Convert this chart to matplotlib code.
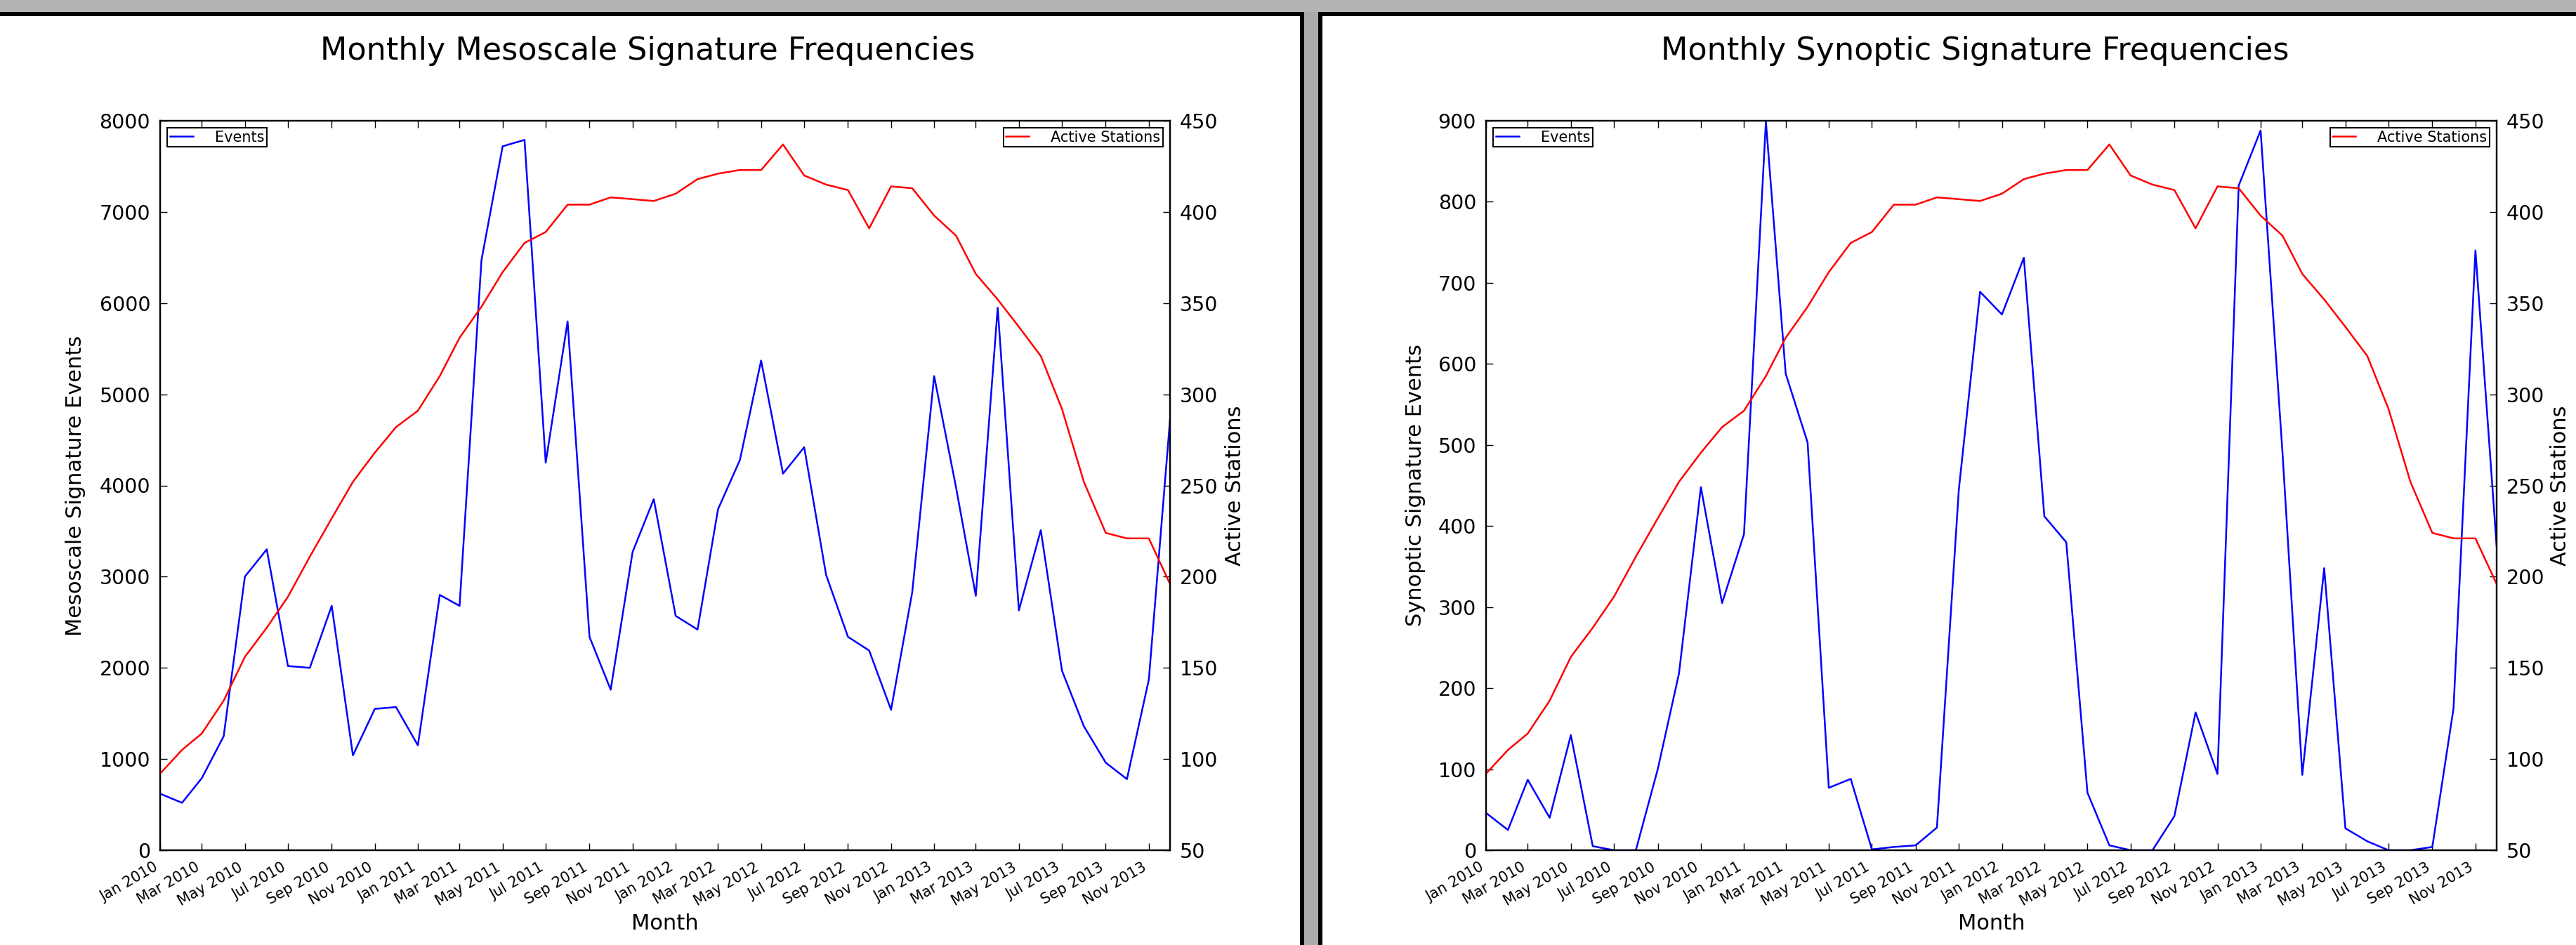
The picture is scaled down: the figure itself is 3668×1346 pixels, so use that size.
import matplotlib
matplotlib.use('Agg')
import matplotlib.pyplot as plt
import matplotlib.dates as mdates
from matplotlib.patches import Rectangle
import pandas as pd

W, H = 3668, 1346
DPI = 100

months = pd.date_range('2010-01-01', '2013-12-01', freq='MS')

meso_events = [620, 520, 790, 1250, 3000, 3300, 2020, 2000, 2680, 1040,
               1550, 1570, 1150, 2800, 2680, 6470, 7720, 7790, 4250, 5800,
               2340, 1760, 3270, 3850, 2570, 2420, 3740, 4280, 5370, 4130,
               4420, 3020, 2340, 2190, 1540, 2830, 5200, 3980, 2790, 5950,
               2630, 3510, 1970, 1360, 960, 780, 1870, 4720]

syn_events = [46, 25, 87, 40, 142, 5, 0, 0, 100, 218,
              448, 305, 390, 899, 588, 503, 77, 88, 1, 4,
              6, 28, 445, 689, 661, 731, 412, 380, 71, 6,
              0, 0, 42, 170, 94, 820, 888, 490, 93, 348,
              27, 11, 0, 0, 4, 175, 740, 375]

active_stations = [92, 105, 114, 132, 156, 172, 189, 211, 232, 252,
                   268, 282, 291, 310, 331, 348, 367, 383, 389, 404,
                   404, 408, 407, 406, 410, 418, 421, 423, 423, 437,
                   420, 415, 412, 391, 414, 413, 398, 387, 366, 352,
                   337, 321, 292, 252, 224, 221, 221, 196]

panels = [
    dict(title='Monthly Mesoscale Signature Frequencies',
         ylabel='Mesoscale Signature Events', events=meso_events,
         ymax=8000, ystep=1000, ax_x=(228, 1666), title_x=922,
         ylab_x=108, y2lab_x=1758),
    dict(title='Monthly Synoptic Signature Frequencies',
         ylabel='Synoptic Signature Events', events=syn_events,
         ymax=900, ystep=100, ax_x=(2116, 3555), title_x=2812,
         ylab_x=2016, y2lab_x=3645),
]

AX_TOP, AX_BOT = 172, 1211

fig = plt.figure(figsize=(W / DPI, H / DPI), dpi=DPI, facecolor='#b4b4b4')


def fx(px):
    return px / W


def fy(py):
    return 1 - py / H


def rect(x0, y0, x1, y1, color):
    fig.add_artist(Rectangle((fx(x0), fy(y1)), fx(x1) - fx(x0), fy(y0) - fy(y1),
                             transform=fig.transFigure, facecolor=color,
                             edgecolor='none', zorder=-5))


# window frames
rect(1857, 17, 1877, H, '#aaaaaa')
rect(0, 17, 1857, H, 'black')
rect(1877, 17, W, H, 'black')
rect(0, 23, 1851, H, 'white')
rect(1883, 23, W, H, 'white')

TICK_LEN = 7.2
for p in panels:
    x0, x1 = p['ax_x']
    ax = fig.add_axes([fx(x0), fy(AX_BOT), fx(x1) - fx(x0), fy(AX_TOP) - fy(AX_BOT)])
    ax.plot(months, p['events'], color='#0000ff', lw=1.8, label='Events')
    ax.set_xlim(months[0], months[-1])
    ax.set_ylim(0, p['ymax'])
    ax.set_yticks(range(0, p['ymax'] + 1, p['ystep']))
    ax.xaxis.set_major_locator(mdates.MonthLocator(bymonth=(1, 3, 5, 7, 9, 11)))
    ax.xaxis.set_major_formatter(mdates.DateFormatter('%b %Y'))
    ax.tick_params(axis='both', direction='in', length=TICK_LEN, width=1.0, pad=10)
    ax.tick_params(axis='y', labelsize=20.5, right=False)
    ax.tick_params(axis='x', labelsize=15, top=True)
    for lab in ax.get_xticklabels():
        lab.set_rotation(30)
        lab.set_ha('right')
    for s in ax.spines.values():
        s.set_linewidth(1.6)

    tw = ax.twinx()
    tw.plot(months, active_stations, color='#ff0000', lw=1.8, label='Active Stations')
    tw.set_ylim(50, 450)
    tw.set_yticks(range(50, 451, 50))
    tw.tick_params(axis='y', direction='in', length=TICK_LEN, width=1.0, pad=10,
                   labelsize=20.5)
    for s in tw.spines.values():
        s.set_linewidth(1.6)

    ax_w = x1 - x0
    ax_h = AX_BOT - AX_TOP
    ax.set_xlabel('Month', fontsize=22)
    ax.xaxis.set_label_coords(0.5, (AX_BOT - 1316) / ax_h)
    ax.xaxis.label.set_va('center')
    ax.set_ylabel(p['ylabel'], fontsize=22)
    ax.yaxis.set_label_coords((p['ylab_x'] - x0) / ax_w, 0.5)
    ax.yaxis.label.set_va('center')
    tw.set_ylabel('Active Stations', fontsize=22)
    tw.yaxis.set_label_coords((p['y2lab_x'] - x0) / ax_w, 0.5)
    tw.yaxis.label.set_va('center')

    leg_kw = dict(fontsize=15, borderpad=0.15, handlelength=1.6,
                  handletextpad=1.5, borderaxespad=0.5, fancybox=False,
                  framealpha=1, edgecolor='black')
    l1 = ax.legend(loc='upper left', **leg_kw)
    l1.get_frame().set_linewidth(1.4)
    l2 = tw.legend(loc='upper right', **leg_kw)
    l2.get_frame().set_linewidth(1.4)

    fig.text(fx(p['title_x']), fy(73), p['title'], ha='center', va='center',
             fontsize=32)

fig.savefig('out.png', dpi=DPI, facecolor=fig.get_facecolor())
